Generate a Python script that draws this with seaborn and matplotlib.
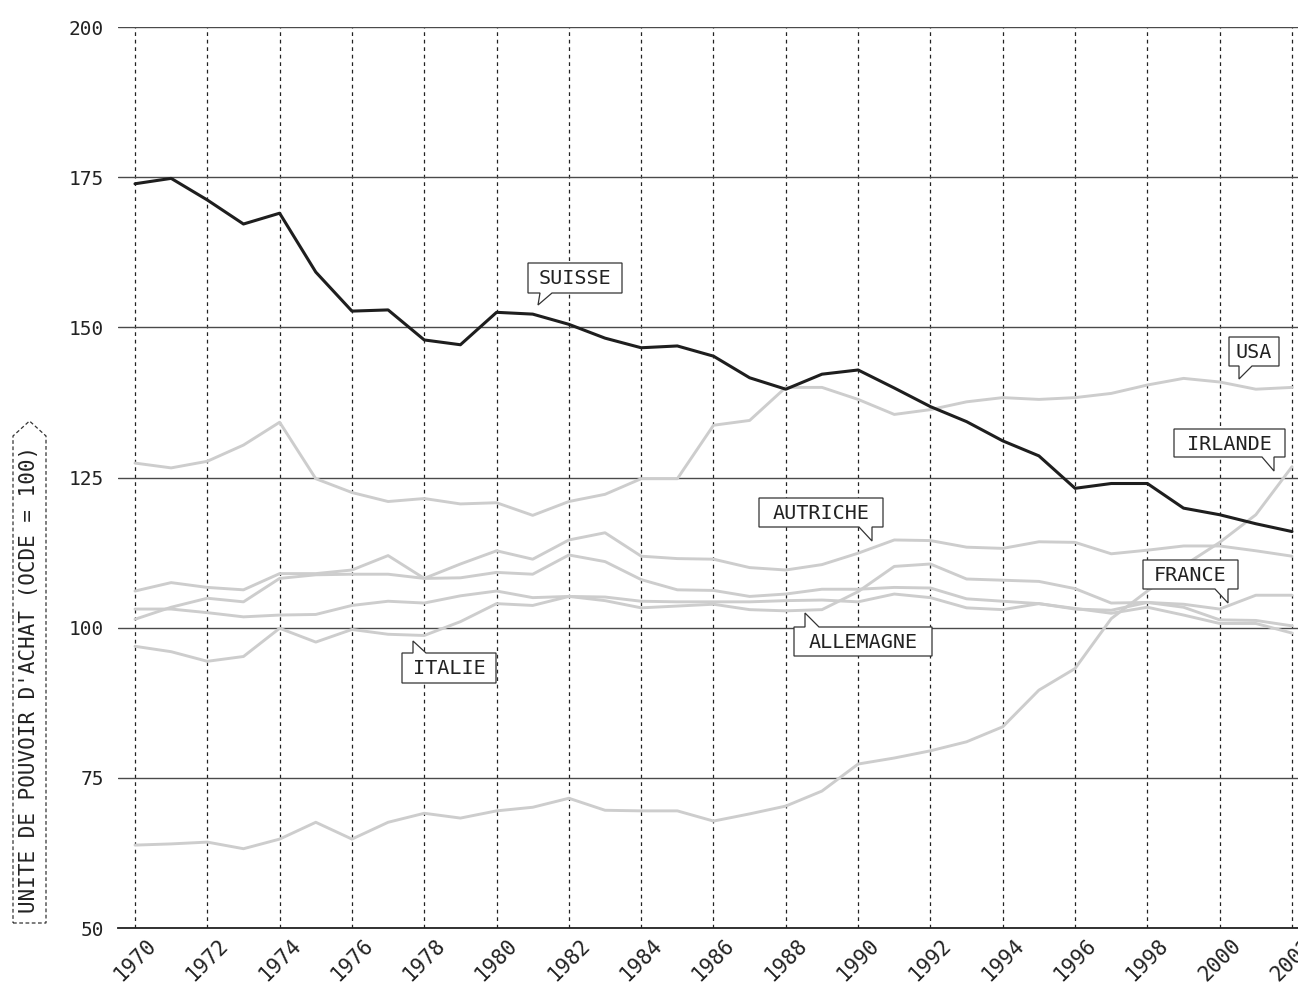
import numpy as np
import pandas as pd
import seaborn as sns
import matplotlib.pyplot as plt
from matplotlib.patches import Polygon

# valeurs (indice OCDE = 100)
annees = list(range(1970, 2003))

suisse = [173.9, 174.8, 171.2, 167.2, 169.0, 159.2, 152.7, 152.9, 147.9, 147.1,
          152.5, 152.2, 150.5, 148.2, 146.6, 146.9, 145.2, 141.6, 139.7, 142.2,
          142.9, 139.9, 136.8, 134.3, 131.1, 128.6, 123.2, 124.0, 124.0, 119.9,
          118.8, 117.3, 116.0]
usa = [127.4, 126.6, 127.7, 130.4, 134.2, 124.8, 122.5, 121.0, 121.5, 120.6,
       120.8, 118.7, 121.0, 122.2, 124.8, 124.8, 133.7, 134.5, 140.0, 140.0,
       138.0, 135.5, 136.3, 137.6, 138.3, 138.0, 138.3, 139.0, 140.4, 141.5,
       140.9, 139.7, 140.0]
irlande = [63.8, 64.0, 64.3, 63.2, 64.8, 67.6, 64.8, 67.6, 69.1, 68.3,
           69.5, 70.1, 71.6, 69.6, 69.5, 69.5, 67.8, 69.0, 70.3, 72.8,
           77.3, 78.3, 79.5, 81.0, 83.5, 89.6, 93.2, 101.5, 106.1, 110.3,
           114.2, 118.8, 126.8]
autriche = [106.1, 107.5, 106.7, 106.3, 109.0, 109.0, 109.6, 112.0, 108.2, 110.6,
            112.8, 111.4, 114.6, 115.8, 111.9, 111.5, 111.4, 110.0, 109.6, 110.5,
            112.4, 114.6, 114.5, 113.4, 113.2, 114.3, 114.2, 112.3, 112.9, 113.6,
            113.6, 112.8, 111.9]
france = [101.4, 103.4, 104.9, 104.3, 108.2, 108.8, 108.9, 108.9, 108.2, 108.3,
          109.2, 108.9, 112.1, 111.0, 108.0, 106.3, 106.2, 105.2, 105.6, 106.4,
          106.4, 106.7, 106.6, 104.8, 104.4, 104.0, 103.1, 102.9, 104.2, 103.9,
          103.1, 105.4, 105.4]
allemagne = [103.1, 103.1, 102.5, 101.8, 102.1, 102.2, 103.7, 104.4, 104.1, 105.3,
             106.1, 105.0, 105.2, 104.5, 103.3, 103.6, 103.9, 103.0, 102.8, 103.0,
             106.0, 110.2, 110.6, 108.1, 107.9, 107.7, 106.5, 104.1, 104.2, 103.4,
             101.3, 101.2, 100.3]
italie = [96.9, 96.0, 94.4, 95.2, 99.9, 97.6, 99.7, 98.9, 98.7, 101.0,
          104.0, 103.7, 105.2, 105.1, 104.4, 104.3, 104.3, 104.3, 104.5, 104.6,
          104.3, 105.6, 105.0, 103.3, 103.0, 104.0, 103.2, 102.4, 103.4, 102.1,
          100.7, 100.7, 99.1]

pays_gris = {'USA': usa, 'IRLANDE': irlande, 'AUTRICHE': autriche,
             'FRANCE': france, 'ALLEMAGNE': allemagne, 'ITALIE': italie}

sns.set_style('white')
plt.rcParams['font.family'] = ['DejaVu Sans Mono']

W, H = 1298, 984
fig = plt.figure(figsize=(W / 100, H / 100), dpi=100)
ax = fig.add_axes([118 / W, 56 / H, 1180 / W, 901 / H])

for nom, vals in pays_gris.items():
    sns.lineplot(x=annees, y=vals, color='#cdcdcd', lw=2.1, ax=ax, zorder=3)
sns.lineplot(x=annees, y=suisse, color='#1e1e1e', lw=2.2, ax=ax, zorder=5)

PX_AN = (1292 - 135) / 32.0
PX_UNITE = 901 / 150.0
ax.set_xlim(1970 - 17 / PX_AN, 2002 + 6 / PX_AN)
ax.set_ylim(50, 200)
ax.set_xticks(range(1970, 2003, 2))
ax.set_yticks(range(50, 201, 25))
ax.set_xticklabels([str(a) for a in range(1970, 2003, 2)], rotation=45, ha='center')
ax.grid(axis='y', color='#4a4a4a', lw=1.0, ls='-')
ax.grid(axis='x', color='#222222', lw=0.9, ls=(0, (3, 3)))
ax.set_axisbelow(True)
for s in ['top', 'right', 'left']:
    ax.spines[s].set_visible(False)
ax.spines['bottom'].set_color('#222222')
ax.spines['bottom'].set_linewidth(1.3)
ax.tick_params(axis='both', length=0, labelsize=14, colors='#222222')
ax.tick_params(axis='y', pad=10)
ax.tick_params(axis='x', pad=5, labelsize=15)
ax.set_xlabel('')
ax.set_ylabel('')


def px2d(x, y):
    # pixels de l'image -> coordonnees des donnees
    return 1970 + (x - 135) / PX_AN, 50 + (928 - y) / PX_UNITE


def bulle(txt, x0, y0, x1, y1, b1, b2, pointe, en_bas=True):
    if en_bas:
        pts = [(x0, y0), (x1, y0), (x1, y1), (b2, y1), pointe, (b1, y1), (x0, y1)]
    else:
        pts = [(x0, y0), (b1, y0), pointe, (b2, y0), (x1, y0), (x1, y1), (x0, y1)]
    ax.add_patch(Polygon([px2d(*p) for p in pts], closed=True, fc='white',
                         ec='#333333', lw=0.9, zorder=9))
    cx, cy = px2d((x0 + x1) / 2, (y0 + y1) / 2 + 1)
    ax.text(cx, cy, txt, ha='center', va='center', fontsize=14.5,
            color='#222222', zorder=10)


bulle('SUISSE', 528, 263, 622, 293, 540, 552, (538, 305))
bulle('USA', 1229, 337, 1279, 366, 1239, 1252, (1239, 379))
bulle('IRLANDE', 1174, 429, 1285, 457, 1262, 1274, (1274, 471))
bulle('FRANCE', 1143, 560, 1238, 589, 1215, 1228, (1228, 603))
bulle('AUTRICHE', 759, 498, 883, 527, 859, 872, (872, 541))
bulle('ALLEMAGNE', 794, 627, 932, 656, 805, 819, (805, 613), en_bas=False)
bulle('ITALIE', 402, 653, 496, 683, 413, 426, (413, 641), en_bas=False)

# titre de l'axe y dans un cadre pointille
pts = [(13, 923), (46, 923), (46, 436), (29.5, 421), (13, 436)]
fig.patches.append(Polygon([(x / W, 1 - y / H) for x, y in pts], closed=True,
                           transform=fig.transFigure, fill=False,
                           ec='#333333', lw=0.9, ls=(0, (3, 2))))
fig.text(29.5 / W, 1 - 679 / H, "UNITE DE POUVOIR D'ACHAT (OCDE = 100)",
         rotation=90, ha='center', va='center', fontsize=15, color='#222222')

fig.savefig('out.png', dpi=100)
